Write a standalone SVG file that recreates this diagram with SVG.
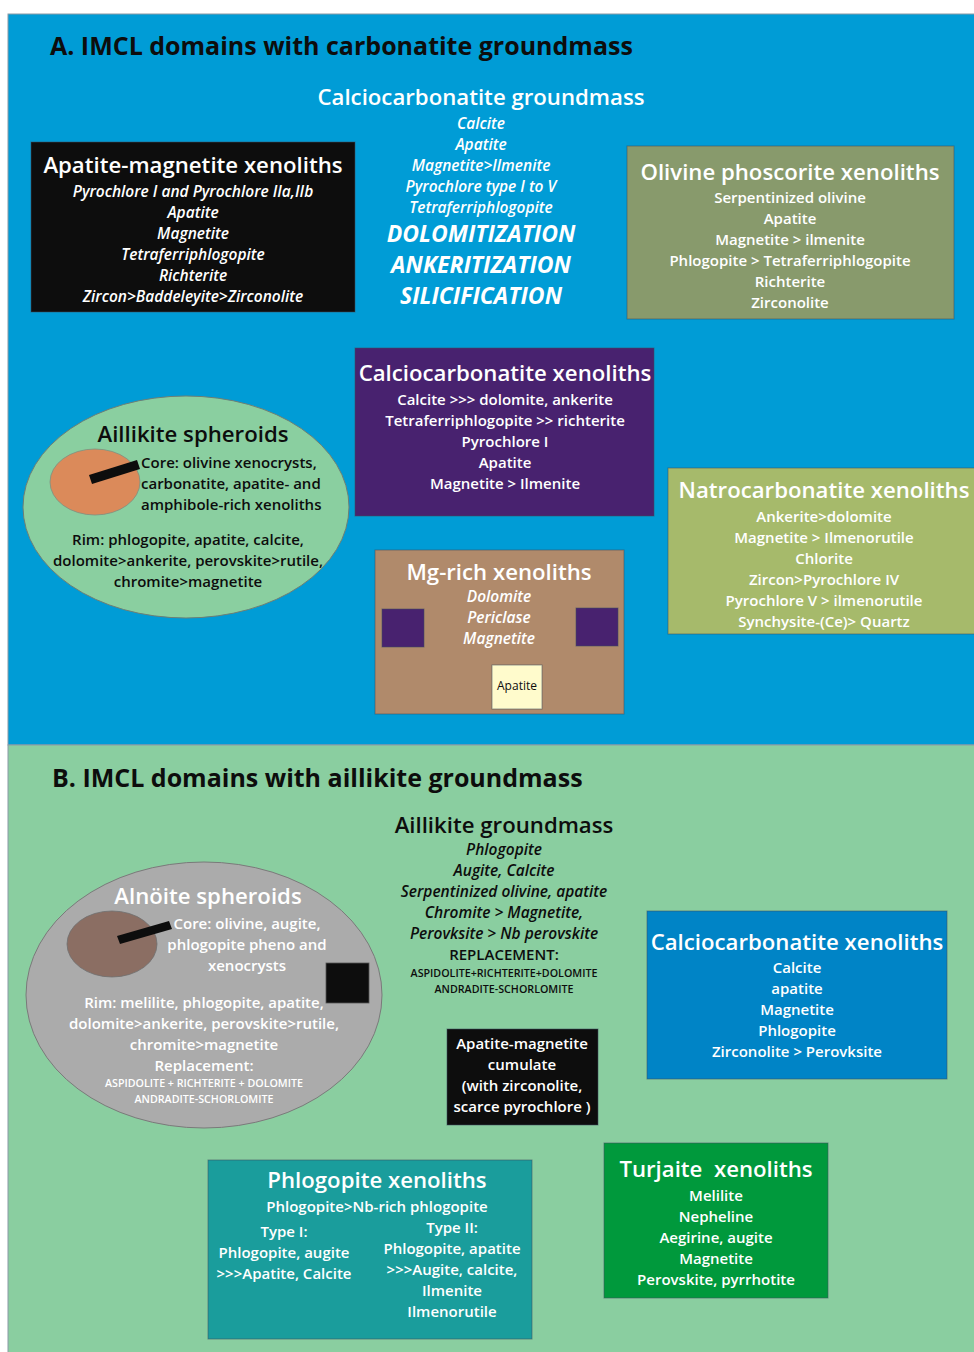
<svg xmlns="http://www.w3.org/2000/svg" width="974" height="1352" viewBox="0 0 974 1352">
<style>
text{font-family:"Open Sans","Noto Sans","DejaVu Sans",sans-serif;font-weight:600;text-anchor:middle}
.w{fill:#ffffff}
.k{fill:#0d0d0d}
.h1{font-size:25px;font-weight:700;text-anchor:start}
.h2{font-size:22.2px}
.b{font-size:15px}
.i{font-style:italic;font-size:15.5px}
.cap{font-size:23px;font-style:italic;font-weight:700}
.s{font-size:10.7px}
.st{text-anchor:start}
.box{stroke:#3f4f5f;stroke-opacity:0.55;stroke-width:1}
.ell{stroke:#6f7f74;stroke-width:1}
</style>
<rect x="0" y="0" width="974" height="1352" fill="#ffffff"/>
<g id="panelA">
<rect x="8" y="14" width="970" height="731" fill="#009cd6" stroke="#8a9aa6" stroke-width="1"/>
<text class="k h1" x="50" y="55">A. IMCL domains with carbonatite groundmass</text>
</g>
<g id="panelB">
<rect x="8" y="745" width="970" height="610" fill="#8acea0" stroke="#8a9aa6" stroke-width="1"/>
<text class="k h1" x="52" y="787">B. IMCL domains with aillikite groundmass</text>
</g>
<g id="connectors"></g>
<g id="calciocarbonatite-groundmass">
<text class="w h2" x="481" y="105">Calciocarbonatite groundmass</text>
<text class="w b i" x="481" y="129">Calcite</text>
<text class="w b i" x="481" y="150">Apatite</text>
<text class="w b i" x="481" y="171">Magnetite&gt;Ilmenite</text>
<text class="w b i" x="481" y="192">Pyrochlore type I to V</text>
<text class="w b i" x="481" y="213">Tetraferriphlogopite</text>
<text class="w cap" x="481" y="242">DOLOMITIZATION</text>
<text class="w cap" x="481" y="273">ANKERITIZATION</text>
<text class="w cap" x="481" y="304">SILICIFICATION</text>
</g>
<g id="apatite-magnetite-xenoliths">
<rect class="box" x="31" y="142" width="324" height="170" fill="#0d0d0d"/>
<text class="w h2" x="193" y="173">Apatite-magnetite xenoliths</text>
<text class="w b i" x="193" y="197">Pyrochlore I and Pyrochlore IIa,IIb</text>
<text class="w b i" x="193" y="218">Apatite</text>
<text class="w b i" x="193" y="239">Magnetite</text>
<text class="w b i" x="193" y="260">Tetraferriphlogopite</text>
<text class="w b i" x="193" y="281">Richterite</text>
<text class="w b i" x="193" y="302">Zircon&gt;Baddeleyite&gt;Zirconolite</text>
</g>
<g id="olivine-phoscorite-xenoliths">
<rect class="box" x="627" y="146" width="327" height="173" fill="#889a6c"/>
<text class="w h2" x="790" y="180">Olivine phoscorite xenoliths</text>
<text class="w b" x="790" y="203">Serpentinized olivine</text>
<text class="w b" x="790" y="224">Apatite</text>
<text class="w b" x="790" y="245">Magnetite &gt; ilmenite</text>
<text class="w b" x="790" y="266">Phlogopite &gt; Tetraferriphlogopite</text>
<text class="w b" x="790" y="287">Richterite</text>
<text class="w b" x="790" y="308">Zirconolite</text>
</g>
<g id="calciocarbonatite-xenoliths-a">
<rect class="box" x="355" y="348" width="299" height="168" fill="#48226f"/>
<text class="w h2" x="505" y="381">Calciocarbonatite xenoliths</text>
<text class="w b" x="505" y="405">Calcite &gt;&gt;&gt; dolomite, ankerite</text>
<text class="w b" x="505" y="426">Tetraferriphlogopite &gt;&gt; richterite</text>
<text class="w b" x="505" y="447">Pyrochlore I</text>
<text class="w b" x="505" y="468">Apatite</text>
<text class="w b" x="505" y="489">Magnetite &gt; Ilmenite</text>
</g>
<g id="aillikite-spheroids">
<ellipse class="ell" cx="186" cy="507" rx="163" ry="111" fill="#8acfa0"/>
<ellipse cx="95" cy="482" rx="45" ry="33" fill="#db8a5a" stroke="#7f8f80" stroke-width="0.8"/>
<polygon points="89,475 137,460 140,469 92,484" fill="#0d0d0d"/>
<text class="k h2" x="193" y="442">Aillikite spheroids</text>
<text class="k b st" x="141" y="468">Core: olivine xenocrysts,</text>
<text class="k b st" x="141" y="489">carbonatite, apatite- and</text>
<text class="k b st" x="141" y="510">amphibole-rich xenoliths</text>
<text class="k b" x="188" y="545">Rim: phlogopite, apatite, calcite,</text>
<text class="k b" x="188" y="566">dolomite&gt;ankerite, perovskite&gt;rutile,</text>
<text class="k b" x="188" y="587">chromite&gt;magnetite</text>
</g>
<g id="mg-rich-xenoliths">
<rect class="box" x="375" y="550" width="249" height="164" fill="#b08a6b"/>
<rect class="box" x="382" y="609" width="42" height="38" fill="#48226f"/>
<rect class="box" x="576" y="608" width="42" height="38" fill="#48226f"/>
<text class="w h2" x="499" y="580">Mg-rich xenoliths</text>
<text class="w b i" x="499" y="602">Dolomite</text>
<text class="w b i" x="499" y="623">Periclase</text>
<text class="w b i" x="499" y="644">Magnetite</text>
</g>
<g id="apatite-inset">
<rect class="box" x="492" y="665" width="50" height="44" fill="#fffbcc"/>
<text class="k" x="517" y="690" style="font-size:12px;font-weight:400">Apatite</text>
</g>
<g id="natrocarbonatite-xenoliths">
<rect class="box" x="668" y="468" width="310" height="166" fill="#a6ba6b"/>
<text class="w h2" x="824" y="498">Natrocarbonatite xenoliths</text>
<text class="w b" x="824" y="522">Ankerite&gt;dolomite</text>
<text class="w b" x="824" y="543">Magnetite &gt; Ilmenorutile</text>
<text class="w b" x="824" y="564">Chlorite</text>
<text class="w b" x="824" y="585">Zircon&gt;Pyrochlore IV</text>
<text class="w b" x="824" y="606">Pyrochlore V &gt; ilmenorutile</text>
<text class="w b" x="824" y="627">Synchysite-(Ce)&gt; Quartz</text>
</g>
<g id="aillikite-groundmass">
<text class="k h2" x="504" y="833">Aillikite groundmass</text>
<text class="k b i" x="504" y="855">Phlogopite</text>
<text class="k b i" x="504" y="876">Augite, Calcite</text>
<text class="k b i" x="504" y="897">Serpentinized olivine, apatite</text>
<text class="k b i" x="504" y="918">Chromite &gt; Magnetite,</text>
<text class="k b i" x="504" y="939">Perovksite &gt; Nb perovskite</text>
<text class="k b" x="504" y="960">REPLACEMENT:</text>
<text class="k s" x="504" y="977">ASPIDOLITE+RICHTERITE+DOLOMITE</text>
<text class="k s" x="504" y="993">ANDRADITE-SCHORLOMITE</text>
</g>
<g id="alnoite-spheroids">
<ellipse cx="204" cy="995" rx="178" ry="133" fill="#ababab" stroke="#7a7a7a" stroke-width="1"/>
<ellipse cx="112" cy="944" rx="45" ry="33" fill="#8b6e63" stroke="#6f6f6f" stroke-width="0.8"/>
<polygon points="117,936 169,921 172,929 120,944" fill="#0d0d0d"/>
<rect x="326" y="963" width="43" height="40" fill="#0d0d0d" stroke="#555" stroke-width="0.8"/>
<text class="w h2" x="208" y="904">Alnöite spheroids</text>
<text class="w b" x="247" y="929">Core: olivine, augite,</text>
<text class="w b" x="247" y="950">phlogopite pheno and</text>
<text class="w b" x="247" y="971">xenocrysts</text>
<text class="w b" x="204" y="1008">Rim: melilite, phlogopite, apatite,</text>
<text class="w b" x="204" y="1029">dolomite&gt;ankerite, perovskite&gt;rutile,</text>
<text class="w b" x="204" y="1050">chromite&gt;magnetite</text>
<text class="w b" x="204" y="1071">Replacement:</text>
<text class="w s" x="204" y="1087">ASPIDOLITE + RICHTERITE + DOLOMITE</text>
<text class="w s" x="204" y="1103">ANDRADITE-SCHORLOMITE</text>
</g>
<g id="apatite-magnetite-cumulate">
<rect class="box" x="447" y="1029" width="151" height="96" fill="#0d0d0d"/>
<text class="w b" x="522" y="1049">Apatite-magnetite</text>
<text class="w b" x="522" y="1070">cumulate</text>
<text class="w b" x="522" y="1091">(with zirconolite,</text>
<text class="w b" x="522" y="1112">scarce pyrochlore )</text>
</g>
<g id="calciocarbonatite-xenoliths-b">
<rect class="box" x="647" y="911" width="300" height="168" fill="#0084c6"/>
<text class="w h2" x="797" y="950">Calciocarbonatite xenoliths</text>
<text class="w b" x="797" y="973">Calcite</text>
<text class="w b" x="797" y="994">apatite</text>
<text class="w b" x="797" y="1015">Magnetite</text>
<text class="w b" x="797" y="1036">Phlogopite</text>
<text class="w b" x="797" y="1057">Zirconolite &gt; Perovksite</text>
</g>
<g id="phlogopite-xenoliths">
<rect class="box" x="208" y="1160" width="324" height="179" fill="#1a9d9c"/>
<text class="w h2" x="377" y="1188">Phlogopite xenoliths</text>
<text class="w b" x="377" y="1212">Phlogopite&gt;Nb-rich phlogopite</text>
<text class="w b" x="284" y="1237">Type I:</text>
<text class="w b" x="284" y="1258">Phlogopite, augite</text>
<text class="w b" x="284" y="1279">&gt;&gt;&gt;Apatite, Calcite</text>
<text class="w b" x="452" y="1233">Type II:</text>
<text class="w b" x="452" y="1254">Phlogopite, apatite</text>
<text class="w b" x="452" y="1275">&gt;&gt;&gt;Augite, calcite,</text>
<text class="w b" x="452" y="1296">Ilmenite</text>
<text class="w b" x="452" y="1317">Ilmenorutile</text>
</g>
<g id="turjaite-xenoliths">
<rect class="box" x="604" y="1143" width="224" height="155" fill="#00993c"/>
<text class="w h2" x="716" y="1177" xml:space="preserve">Turjaite  xenoliths</text>
<text class="w b" x="716" y="1201">Melilite</text>
<text class="w b" x="716" y="1222">Nepheline</text>
<text class="w b" x="716" y="1243">Aegirine, augite</text>
<text class="w b" x="716" y="1264">Magnetite</text>
<text class="w b" x="716" y="1285">Perovskite, pyrrhotite</text>
</g>
</svg>
